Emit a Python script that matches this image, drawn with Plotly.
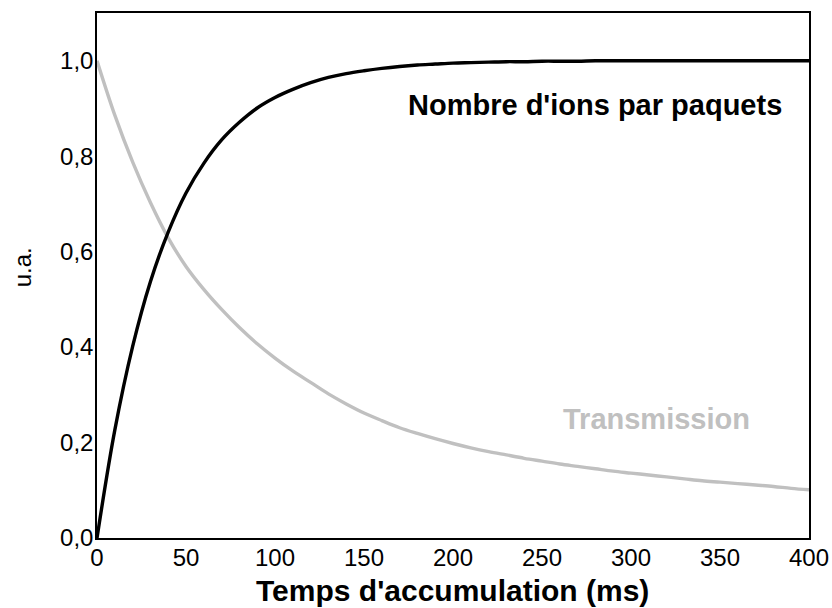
import plotly.graph_objects as go

# Accumulation time (ms), sampled every 10 ms
t_ms = list(range(0, 401, 10))

# Number of ions per packet (normalised)
ions = [0.0, 0.226, 0.401, 0.537, 0.641, 0.723, 0.785, 0.834, 0.871, 0.901,
        0.923, 0.940, 0.954, 0.965, 0.973, 0.979, 0.984, 0.988, 0.991, 0.993,
        0.995, 0.996, 0.997, 0.998, 0.998, 0.999, 0.999, 0.999, 1.0, 1.0,
        1.0, 1.0, 1.0, 1.0, 1.0, 1.0, 1.0, 1.0, 1.0, 1.0, 1.0]

# Transmission (normalised)
transmission = [1.0, 0.886, 0.788, 0.703, 0.629, 0.569, 0.521, 0.479, 0.441, 0.407,
                0.377, 0.350, 0.326, 0.302, 0.281, 0.262, 0.246, 0.231, 0.219, 0.208,
                0.198, 0.189, 0.181, 0.174, 0.167, 0.161, 0.155, 0.150, 0.145, 0.140,
                0.136, 0.132, 0.128, 0.124, 0.120, 0.117, 0.114, 0.111, 0.108, 0.104,
                0.101]

x_ticks = [0, 50, 100, 150, 200, 250, 300, 350, 400]
y_ticks = [0.0, 0.2, 0.4, 0.6, 0.8, 1.0]

FONT = "Liberation Sans, Arial, sans-serif"
GREY = "#c0c0c0"

fig = go.Figure()
fig.add_trace(go.Scatter(x=t_ms, y=transmission, mode="lines",
                         line=dict(color=GREY, width=3.4, shape="spline"),
                         hoverinfo="skip"))
fig.add_trace(go.Scatter(x=t_ms, y=ions, mode="lines",
                         line=dict(color="black", width=3.4, shape="spline"),
                         hoverinfo="skip"))

axis_common = dict(showgrid=False, zeroline=False, showline=True, mirror=True,
                   linecolor="black", linewidth=1.5, ticks="", automargin=False,
                   tickfont=dict(family=FONT, size=24, color="black"))

fig.update_xaxes(range=[0, 400], tickvals=x_ticks, ticklabelstandoff=-3,
                 **axis_common)
fig.update_yaxes(range=[0, 1.1], tickvals=y_ticks, tickformat=".1f",
                 ticklabelstandoff=-3, **axis_common)

fig.add_annotation(x=279.5, y=0.908, xref="x", yref="y",
                   text="<b>Nombre d'ions par paquets</b>", showarrow=False,
                   font=dict(family=FONT, size=29, color="black"),
                   xanchor="center", yanchor="middle")
fig.add_annotation(x=314.6, y=0.249, xref="x", yref="y",
                   text="<b>Transmission</b>", showarrow=False,
                   font=dict(family=FONT, size=29, color=GREY),
                   xanchor="center", yanchor="middle")

# Axis titles
fig.add_annotation(x=0.499, y=-0.1, xref="paper", yref="paper",
                   text="<b>Temps d'accumulation (ms)</b>", showarrow=False,
                   font=dict(family=FONT, size=30, color="black"),
                   xanchor="center", yanchor="middle")
fig.add_annotation(x=-0.105, y=0.516, xref="paper", yref="paper",
                   text="u.a.", showarrow=False, textangle=-90,
                   font=dict(family=FONT, size=24, color="black"),
                   xanchor="center", yanchor="middle")

fig.update_layout(width=832, height=608,
                  margin=dict(l=97, r=23, t=13, b=70, autoexpand=False),
                  paper_bgcolor="white", plot_bgcolor="white",
                  separators=", ", showlegend=False)

fig.write_html("out.html")
